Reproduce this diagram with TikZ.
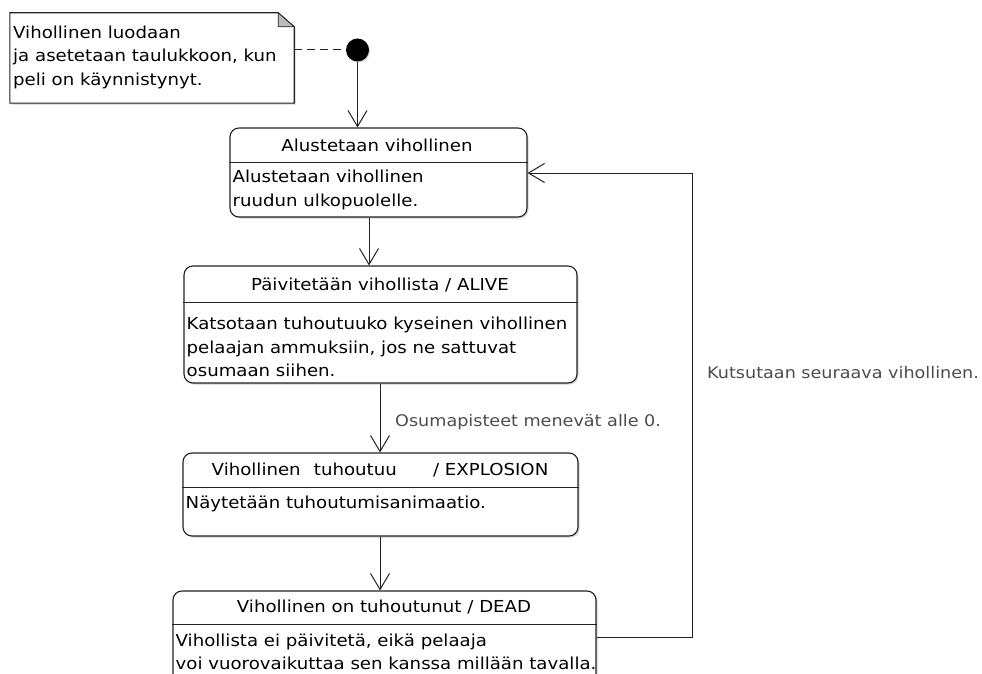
\documentclass[tikz,border=0pt]{standalone}
\usepackage{fontspec}
\setmainfont{DejaVu Sans}[FakeStretch=1.1]
\usetikzlibrary{arrows.meta,shadows}
\definecolor{linec}{HTML}{222222}
\definecolor{lblc}{HTML}{4D4D4D}
\definecolor{foldc}{HTML}{BBBBBB}
\begin{document}
\begin{tikzpicture}[x=1pt,y=-1pt,
  every node/.style={font=\fontsize{16.5}{23.5}\selectfont, inner sep=0pt},
  statebox/.style={draw=linec, line width=1.1pt, fill=white, rounded corners=9pt,
     minimum width=#1, drop shadow={shadow xshift=1.5pt, shadow yshift=-1.5pt, opacity=0.35, fill=gray}},
  hdr/.style={anchor=center},
  body/.style={anchor=west, align=left},
  lbl/.style={anchor=west, text=lblc, font=\fontsize{16}{20}\selectfont},
  arr/.style={draw=linec, line width=1pt, -{Straight Barb[length=16pt,width=19pt,line width=1pt]}},
  conn/.style={draw=linec, line width=1pt}
]
\clip (0,0) rectangle (982,674);
\fill[white] (0,0) rectangle (982,674);

% note
\node[minimum width=284pt, minimum height=90pt] (note) at (152,58) {};
\fill[gray, opacity=0.35] ([shift={(1.5pt,-1.5pt)}]note.north west) -- ([shift={(-14.5pt,-1.5pt)}]note.north east)
   -- ([shift={(1.5pt,-15.5pt)}]note.north east) -- ([shift={(1.5pt,-1.5pt)}]note.south east)
   -- ([shift={(1.5pt,-1.5pt)}]note.south west) -- cycle;
\draw[linec, line width=1.1pt, fill=white] (note.north west) -- ([xshift=-16pt]note.north east)
   -- ([yshift=-14pt]note.north east) -- (note.south east) -- (note.south west) -- cycle;
\draw[linec, line width=0.8pt, fill=foldc] ([xshift=-16pt]note.north east) -- ([xshift=-16pt,yshift=-14pt]note.north east)
   -- ([yshift=-14pt]note.north east) -- cycle;
\node[body] (notetext) at (13,57) {Vihollinen luodaan\\ja asetetaan taulukkoon, kun\\peli on käynnistynyt.};

% initial
\node[circle, fill=black, minimum size=23pt, drop shadow={shadow xshift=1pt, shadow yshift=-1pt, opacity=0.3, fill=gray}] (init) at (357.5,50) {};
\draw[conn, dashed, dash pattern=on 8pt off 5pt] (note.east |- init) -- (init);

% states
\node[statebox=297pt, minimum height=89pt] (s1) at (378.5,172.5) {};
\draw[conn] (s1.west |- 0,162) -- (s1.east |- 0,162);
\node[hdr] (s1h) at (377,145) {Alustetaan vihollinen};
\node[body] (s1b) at (232.5,190) {Alustetaan vihollinen\\ruudun ulkopuolelle.};

\node[statebox=393pt, minimum height=117pt] (s2) at (380.5,324.5) {};
\draw[conn] (s2.west |- 0,302) -- (s2.east |- 0,302);
\node[hdr] (s2h) at (380,285) {Päivitetään vihollista / ALIVE};
\node[body] (s2b) at (186.5,347) {Katsotaan tuhoutuuko kyseinen vihollinen\\pelaajan ammuksiin, jos ne sattuvat\\osumaan siihen.};

\node[statebox=395pt, minimum height=83pt] (s3) at (380.5,494.5) {};
\draw[conn] (s3.west |- 0,487) -- (s3.east |- 0,487);
\node[hdr] (s3h) at (380,470) {Vihollinen\hspace{0.8em}tuhoutuu\hspace{2.2em}/ EXPLOSION};
\node[body] (s3b) at (185.5,504) {Näytetään tuhoutumisanimaatio.};

\node[statebox=423pt, minimum height=110pt] (s4) at (384.5,646) {};
\draw[conn] (s4.west |- 0,624) -- (s4.east |- 0,624);
\node[hdr] (s4h) at (384,607) {Vihollinen on tuhoutunut / DEAD};
\node[body] (s4b) at (175.5,652) {Vihollista ei päivitetä, eikä pelaaja\\voi vuorovaikuttaa sen kanssa millään tavalla.};

% transitions
\draw[arr] (init) -- (s1.north -| init);
\draw[arr] (s1.south -| 369,0) -- (s2.north -| 369,0);
\draw[arr] (s2.south -| 380,0) -- (s3.north -| 380,0);
\node[lbl] (l1) at (395,422) {Osumapisteet menevät alle 0.};
\draw[arr] (s3.south -| 380,0) -- (s4.north -| 380,0);
\coordinate (r1) at (692,637);
\coordinate (r2) at (692,173);
\draw[arr] (s4.east |- r1) -- (r1) -- (r2) -- (s1.east |- r2);
\node[lbl] (l2) at (707,373) {Kutsutaan seuraava vihollinen.};
\end{tikzpicture}
\end{document}
